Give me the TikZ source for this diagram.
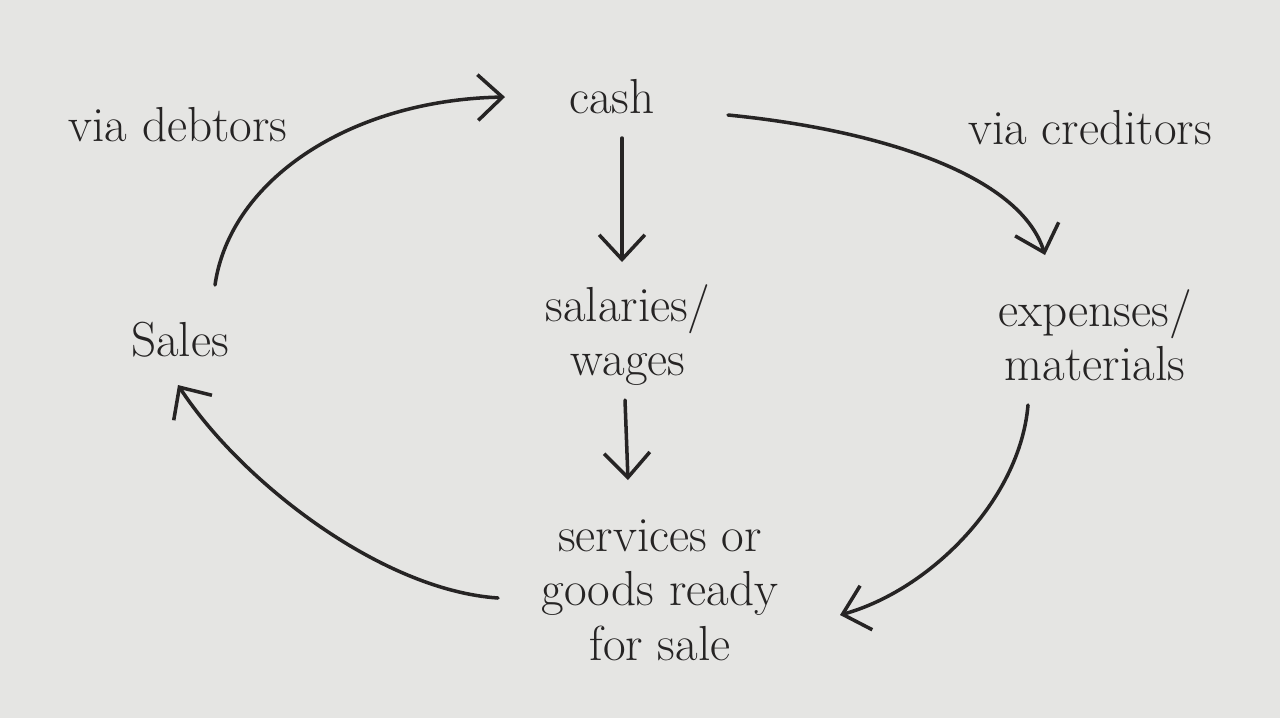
\documentclass[tikz,border=0pt]{standalone}
\usepackage{amsmath, amssymb}
\usetikzlibrary{positioning, calc, arrows.meta}

\definecolor{paper}{RGB}{229,229,227}
\definecolor{ink}{RGB}{38,36,36}

\begin{document}
\begin{tikzpicture}[x=0.02cm, y=-0.02cm,
    word/.style={text=ink, align=center, font=\fontsize{28}{31}\selectfont},
    flow/.style={draw=ink, line width=2pt, line cap=round,
        -{Straight Barb[length=14pt, width=26pt, line width=2pt]}}]
    \fill[paper] (0,0) rectangle (1280,718);

    \node[word] (cash) at (612, 97) {cash};
    \node[word] (debtors) at (178, 125) {via debtors};
    \node[word] (creditors) at (1090, 128) {via creditors};
    \node[word] (sales) at (180, 340) {Sales};
    \node[word] (wages) at (628, 335) {salaries/\\wages};
    \node[word] (expenses) at (1095, 335) {expenses/\\materials};
    \node[word] (goods) at (660, 590) {services or\\goods ready\\for sale};

    % round the cycle
    \draw[flow] ($(sales)+(35,-55)$) .. controls (230,180) and (350,100) .. ($(cash)+(-107,0)$);
    \draw[flow] ($(cash)+(116,18)$) .. controls (880,130) and (1020,175) .. ($(expenses)+(-50,-80)$);
    \draw[flow] ($(expenses)+(-67,70)$) .. controls (1020,500) and (930,590) .. ($(goods)+(180,25)$);
    \draw[flow] ($(goods)+(-162,8)$) .. controls (380,590) and (240,480) .. ($(sales)+(-2,45)$);

    % middle column
    \draw[flow] ($(cash)+(10,41)$) -- ($(wages)+(-6,-73)$);
    \draw[flow] ($(wages)+(-3,65)$) -- ($(goods)+(-32,-110)$);
\end{tikzpicture}
\end{document}
